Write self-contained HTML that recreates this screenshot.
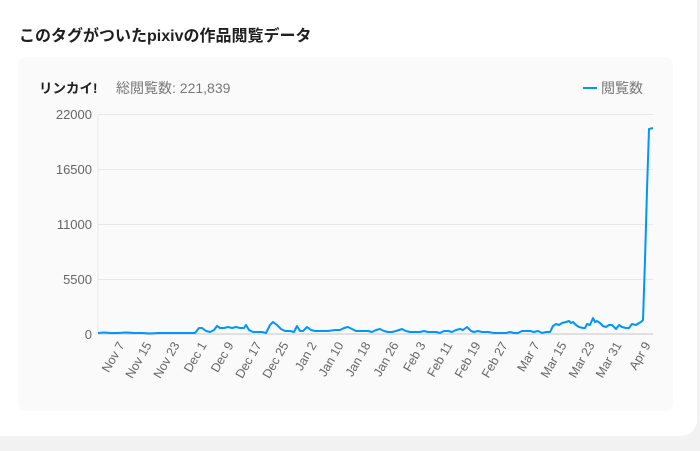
<!DOCTYPE html><html><head><meta charset="utf-8"><style>
body{margin:0;width:700px;height:451px;background:#f2f2f2;font-family:"Liberation Sans","Noto Sans CJK JP",sans-serif;overflow:hidden;position:relative}
.card{position:absolute;left:0;top:0;width:697px;height:436px;background:#fff;border-radius:0 0 16px 0}
.h{position:absolute;left:19px;top:22px;font-size:16px;font-weight:bold;color:#1f1f1f}
.panel{position:absolute;left:18px;top:57px;width:655px;height:354px;background:#fafafa;border-radius:8px}
</style></head><body><div class="card"><div class="h">このタグがついたpixivの作品閲覧データ</div>
<div class="panel"></div>
<svg width="700" height="451" style="position:absolute;left:0;top:0" font-family="Liberation Sans, Noto Sans CJK JP, sans-serif">
<text x="39" y="93" font-size="13.5" font-weight="bold" fill="#1f1f1f">リンカイ!</text>
<text x="116" y="93" font-size="14" fill="#777">総閲覧数: 221,839</text>
<line x1="583" y1="88" x2="597" y2="88" stroke="#0096fa" stroke-width="2"/>
<text x="601" y="93" font-size="14" fill="#777">閲覧数</text>
<g stroke="#e8e8e8" stroke-width="1"><line x1="98" y1="114.5" x2="653" y2="114.5"/><line x1="98" y1="169.5" x2="653" y2="169.5"/><line x1="98" y1="224.5" x2="653" y2="224.5"/><line x1="98" y1="279.5" x2="653" y2="279.5"/><line x1="98" y1="114" x2="98" y2="334"/></g>
<line x1="98" y1="334" x2="653" y2="334" stroke="#e0e0e0" stroke-width="2"/>
<g font-size="13" fill="#666" text-anchor="end"><text x="92" y="119">22000</text><text x="92" y="174">16500</text><text x="92" y="229">11000</text><text x="92" y="284">5500</text><text x="92" y="339">0</text></g>
<g font-size="12.5" fill="#666" text-anchor="end">
<text transform="translate(125,345) rotate(-60)">Nov 7</text>
<text transform="translate(152,345) rotate(-60)">Nov 15</text>
<text transform="translate(180,345) rotate(-60)">Nov 23</text>
<text transform="translate(207,345) rotate(-60)">Dec 1</text>
<text transform="translate(234,345) rotate(-60)">Dec 9</text>
<text transform="translate(262,345) rotate(-60)">Dec 17</text>
<text transform="translate(289,345) rotate(-60)">Dec 25</text>
<text transform="translate(317,345) rotate(-60)">Jan 2</text>
<text transform="translate(344,345) rotate(-60)">Jan 10</text>
<text transform="translate(371,345) rotate(-60)">Jan 18</text>
<text transform="translate(399,345) rotate(-60)">Jan 26</text>
<text transform="translate(426,345) rotate(-60)">Feb 3</text>
<text transform="translate(453,345) rotate(-60)">Feb 11</text>
<text transform="translate(481,345) rotate(-60)">Feb 19</text>
<text transform="translate(508,345) rotate(-60)">Feb 27</text>
<text transform="translate(540,345) rotate(-60)">Mar 7</text>
<text transform="translate(567,345) rotate(-60)">Mar 15</text>
<text transform="translate(595,345) rotate(-60)">Mar 23</text>
<text transform="translate(622,345) rotate(-60)">Mar 31</text>
<text transform="translate(651,345) rotate(-60)">Apr 9</text>
</g>
<polyline fill="none" stroke="#0096fa" stroke-width="2" stroke-linejoin="round" points="98,333 104,332.5 110,333 118,333 126,332.5 134,333 142,333 150,333.5 158,333 166,333 174,333 182,333 190,333 195,333 199,328 202,328 206,331 210,332 214,330 217,326 220,328 224,328 228,327 232,328 236,327 240,328 244,328 246,325 249,330 253,332 258,332 262,332 266,333 270,325 273,322 277,325 281,329 285,331 290,331 294,332 297,326 300,331 303,331 307,327 311,330 315,331 320,331 328,331 335,330 340,330 344,328 348,327 352,329 356,331 362,331 368,331 372,332 376,330 380,329 384,331 388,332 392,332 396,331 402,329 406,331 410,332 415,332 420,332 424,331 428,332 432,332 436,332 440,333 444,331 448,331 452,332 456,330 460,329 463,330 467,327 471,331 474,332 478,331 482,332 488,332 494,333 500,333 506,333 510,332 514,333 518,333 522,331 526,331 530,331 534,332 538,331 542,333 546,332 550,332 553,326 556,324 559,325 562,323 566,322 569,321 571,323 573,322 576,325 579,327 583,328 585,328 587,324 590,325 593,318 595,322 597,321 600,323 603,326 606,327 609,325 612,325 614,327 616,329 619,325 622,327 626,328 629,328 632,324 636,325 639,323 641,322 643,320 645,260 647,190 649,129 653,128"/>
</svg></div></body></html>
